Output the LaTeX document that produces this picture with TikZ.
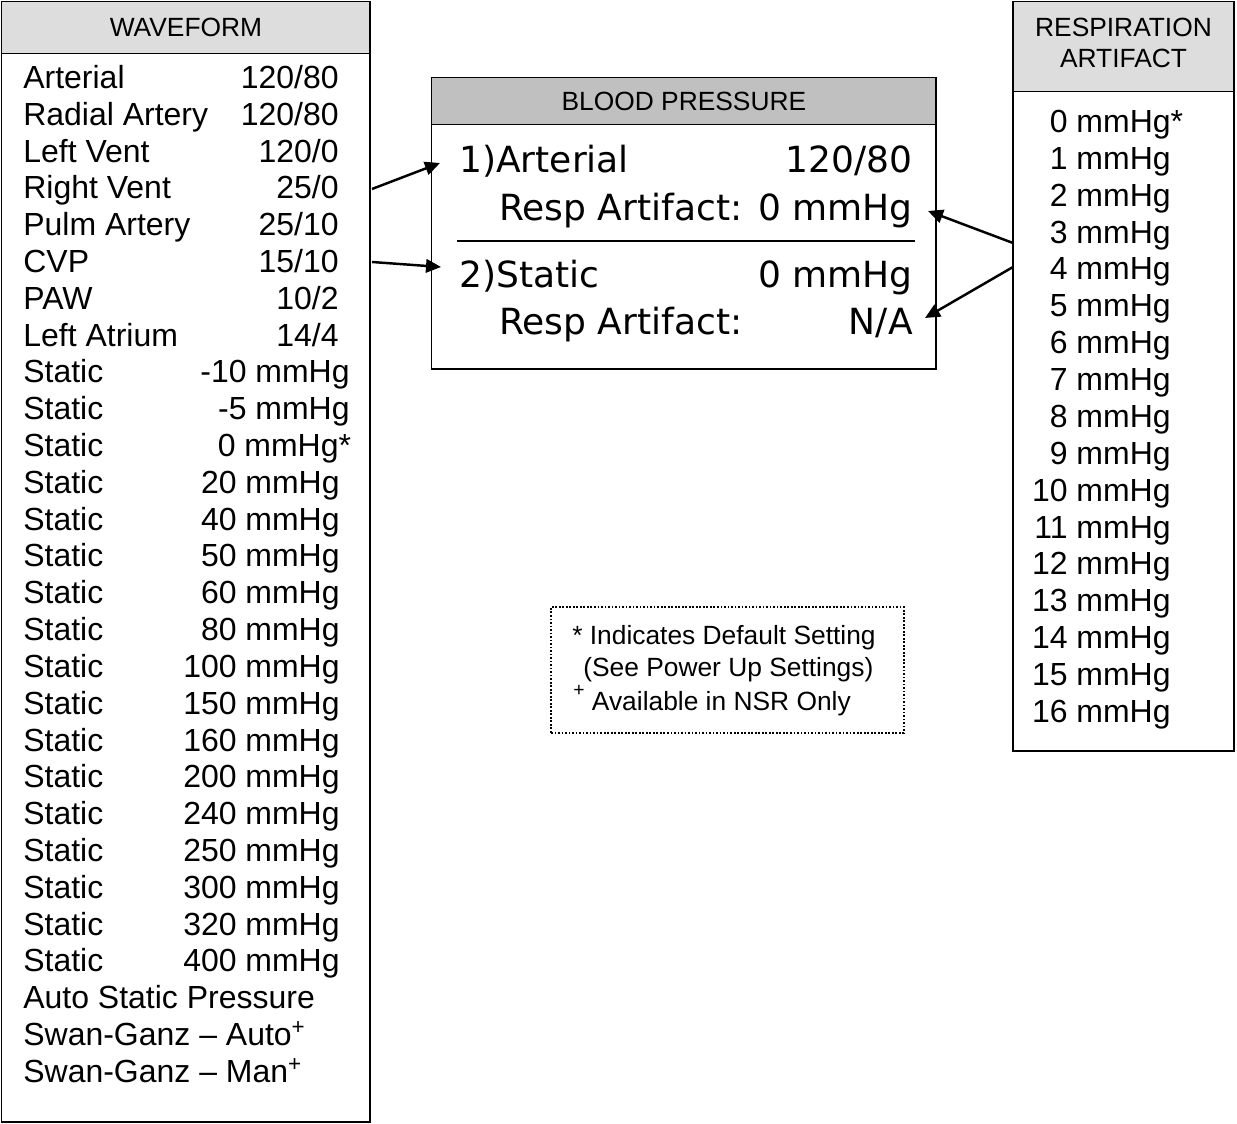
\documentclass[tikz,border=0pt]{standalone}
\usepackage{fontspec}
\setmainfont{Liberation Sans}
\newfontfamily\lcdfont{DejaVu Sans}
\usepackage{xcolor}
\usetikzlibrary{arrows.meta}

\definecolor{hdrgray}{RGB}{221,221,221}
\definecolor{bpgray}{RGB}{192,192,192}

\begin{document}
\begin{tikzpicture}[
    x=0.02cm, y=-0.02cm,
    frame/.style={draw=black, line width=1.1pt, outer sep=0pt, inner sep=0pt},
    hdrbox/.style={frame, fill=hdrgray, align=center,
        font=\fontsize{15pt}{17.6pt}\selectfont},
    lab/.style={anchor=base west, inner sep=0pt,
        font=\fontsize{18.2pt}{21pt}\selectfont},
    val/.style={anchor=base east, inner sep=0pt,
        font=\fontsize{18.2pt}{21pt}\selectfont},
    lcdl/.style={anchor=base west, inner sep=0pt,
        font=\lcdfont\fontsize{20.5pt}{24pt}\selectfont},
    lcdr/.style={anchor=base east, inner sep=0pt,
        font=\lcdfont\fontsize{20.5pt}{24pt}\selectfont},
    note/.style={anchor=base west, inner sep=0pt,
        font=\fontsize{15pt}{18pt}\selectfont},
    arr/.style={-{Triangle[length=0.3cm,width=0.27cm]}, line width=1.4pt}
]
\useasboundingbox (0,0) rectangle (1237,1124);

% waveform list
\node[hdrbox, minimum width=7.38cm, minimum height=1.04cm, anchor=north west]
    (wavehd) at (1.5,1.5) {WAVEFORM};
\node[frame, minimum width=7.38cm, minimum height=21.38cm, anchor=north west]
    (wave) at (wavehd.south west) {};

\node[lab] (wl1) at (23,88.5) {Arterial};
\node[val] (wv1) at (339,88.5) {120/80};
\node[lab] (wl2) at (23,125.3) {Radial Artery};
\node[val] (wv2) at (339,125.3) {120/80};
\node[lab] (wl3) at (23,162.1) {Left Vent};
\node[val] (wv3) at (339,162.1) {120/0};
\node[lab] (wl4) at (23,198.9) {Right Vent};
\node[val] (wv4) at (339,198.9) {25/0};
\node[lab] (wl5) at (23,235.7) {Pulm Artery};
\node[val] (wv5) at (339,235.7) {25/10};
\node[lab] (wl6) at (23,272.6) {CVP};
\node[val] (wv6) at (339,272.6) {15/10};
\node[lab] (wl7) at (23,309.4) {PAW};
\node[val] (wv7) at (339,309.4) {10/2};
\node[lab] (wl8) at (23,346.2) {Left Atrium};
\node[val] (wv8) at (339,346.2) {14/4};
\node[lab] (wl9) at (23,383.0) {Static};
\node[val] (wv9) at (350,383.0) {-10 mmHg};
\node[lab] (wl10) at (23,419.8) {Static};
\node[val] (wv10) at (350,419.8) {-5 mmHg};
\node[lab] (wl11) at (23,456.6) {Static};
\node[val] (wv11) at (339,456.6) {0 mmHg\rlap{*}};
\node[lab] (wl12) at (23,493.4) {Static};
\node[val] (wv12) at (340,493.4) {20 mmHg};
\node[lab] (wl13) at (23,530.2) {Static};
\node[val] (wv13) at (340,530.2) {40 mmHg};
\node[lab] (wl14) at (23,567.0) {Static};
\node[val] (wv14) at (340,567.0) {50 mmHg};
\node[lab] (wl15) at (23,603.8) {Static};
\node[val] (wv15) at (340,603.8) {60 mmHg};
\node[lab] (wl16) at (23,640.7) {Static};
\node[val] (wv16) at (340,640.7) {80 mmHg};
\node[lab] (wl17) at (23,677.5) {Static};
\node[val] (wv17) at (340,677.5) {100 mmHg};
\node[lab] (wl18) at (23,714.3) {Static};
\node[val] (wv18) at (340,714.3) {150 mmHg};
\node[lab] (wl19) at (23,751.1) {Static};
\node[val] (wv19) at (340,751.1) {160 mmHg};
\node[lab] (wl20) at (23,787.9) {Static};
\node[val] (wv20) at (340,787.9) {200 mmHg};
\node[lab] (wl21) at (23,824.7) {Static};
\node[val] (wv21) at (340,824.7) {240 mmHg};
\node[lab] (wl22) at (23,861.5) {Static};
\node[val] (wv22) at (340,861.5) {250 mmHg};
\node[lab] (wl23) at (23,898.3) {Static};
\node[val] (wv23) at (340,898.3) {300 mmHg};
\node[lab] (wl24) at (23,935.1) {Static};
\node[val] (wv24) at (340,935.1) {320 mmHg};
\node[lab] (wl25) at (23,971.9) {Static};
\node[val] (wv25) at (340,971.9) {400 mmHg};
\node[lab] (wl26) at (23,1008.7) {Auto Static Pressure};
\node[lab] (wl27) at (23,1045.6) {Swan-Ganz – Auto\textsuperscript{+}};
\node[lab] (wl28) at (23,1082.4) {Swan-Ganz – Man\textsuperscript{+}};

% blood pressure display
\node[hdrbox, fill=bpgray, minimum width=10.1cm, minimum height=0.94cm, anchor=north west]
    (bphd) at (431.5,77.5) {BLOOD PRESSURE};
\node[frame, minimum width=10.1cm, minimum height=4.9cm, anchor=north west]
    (bp) at (bphd.south west) {};
\draw[line width=1.7pt] (457,241) -- (915,241);

\node[lcdl] (bpart) at (459,173) {1)Arterial};
\node[lcdr] (bpartv) at (913,173) {120/80};
\node[lcdl] (bprsp1) at (499,221) {Resp Artifact:};
\node[lcdr] (bprsp1v) at (913,221) {0 mmHg};
\node[lcdl] (bpstat) at (459,288) {2)Static};
\node[lcdr] (bpstatv) at (913,288) {0 mmHg};
\node[lcdl] (bprsp2) at (499,335) {Resp Artifact:};
\node[lcdr] (bprsp2v) at (913,335) {N/A};

% respiration artifact list
\node[hdrbox, text depth=4pt, minimum width=4.42cm, minimum height=1.8cm, anchor=north west]
    (resphd) at (1013,1.5) {RESPIRATION\\ARTIFACT};
\node[frame, minimum width=4.42cm, minimum height=13.2cm, anchor=north west]
    (resp) at (resphd.south west) {};

\node[val] (r0) at (1171,132.5) {0 mmHg\rlap{*}};
\node[val] (r1) at (1171,169.4) {1 mmHg};
\node[val] (r2) at (1171,206.3) {2 mmHg};
\node[val] (r3) at (1171,243.1) {3 mmHg};
\node[val] (r4) at (1171,280.0) {4 mmHg};
\node[val] (r5) at (1171,316.9) {5 mmHg};
\node[val] (r6) at (1171,353.8) {6 mmHg};
\node[val] (r7) at (1171,390.6) {7 mmHg};
\node[val] (r8) at (1171,427.5) {8 mmHg};
\node[val] (r9) at (1171,464.4) {9 mmHg};
\node[val] (r10) at (1171,501.3) {10 mmHg};
\node[val] (r11) at (1171,538.1) {11 mmHg};
\node[val] (r12) at (1171,575.0) {12 mmHg};
\node[val] (r13) at (1171,611.9) {13 mmHg};
\node[val] (r14) at (1171,648.8) {14 mmHg};
\node[val] (r15) at (1171,685.6) {15 mmHg};
\node[val] (r16) at (1171,722.5) {16 mmHg};

% legend
\node[draw=black, line width=1pt, dash pattern=on 1pt off 1pt,
    minimum width=7.06cm, minimum height=2.52cm, inner sep=0pt]
    (legend) at (727.5,670) {};
\node[note] (legend1) at (572,644.5) {* Indicates Default Setting};
\node[note] (legend2) at (583,676.5) {(See Power Up Settings)};
\node[note] (legend3) at (573,710) {\raisebox{0.5em}{\fontsize{11pt}{11pt}\selectfont +} Available in NSR Only};

% arrows
\coordinate (rvout) at (372,189);
\coordinate (artin) at (440,163);
\coordinate (cvpout) at (372,262);
\coordinate (statin) at (441,267);
\coordinate (respout1) at (1013,243);
\coordinate (rsp1in) at (928,211);
\coordinate (respout2) at (1013,267);
\coordinate (rsp2in) at (925,318);

\draw[arr] (rvout) -- (artin);
\draw[arr] (cvpout) -- (statin);
\draw[arr] (respout1) -- (rsp1in);
\draw[arr] (respout2) -- (rsp2in);

\end{tikzpicture}
\end{document}
